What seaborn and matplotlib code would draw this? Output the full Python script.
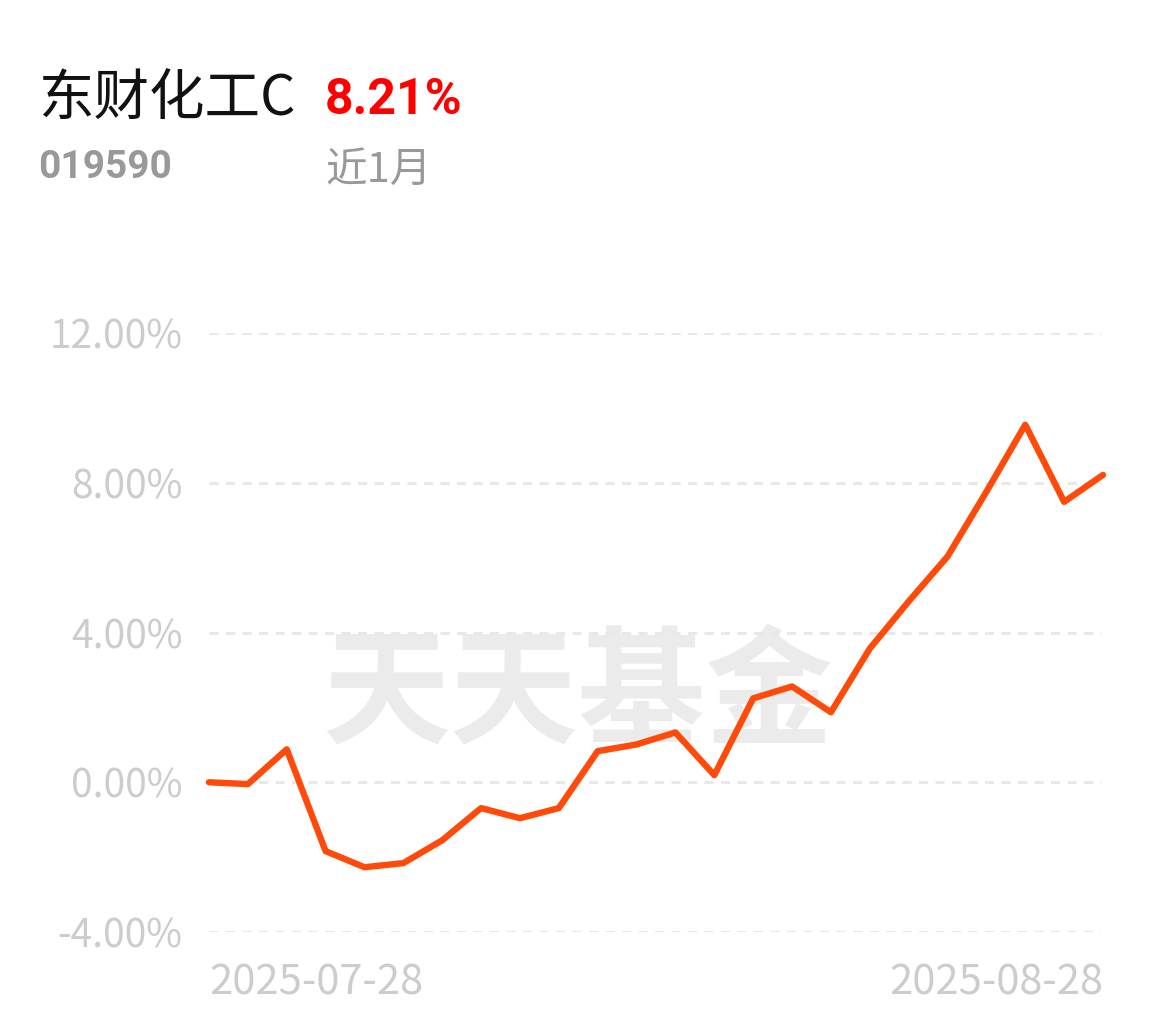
import pandas as pd
import numpy as np
import matplotlib
matplotlib.use('Agg')
import matplotlib.pyplot as plt
import seaborn as sns

# 数据: 近1月累计收益率 (%)
dates = ['2025-07-28', '2025-07-29', '2025-07-30', '2025-07-31', '2025-08-01',
         '2025-08-04', '2025-08-05', '2025-08-06', '2025-08-07', '2025-08-08',
         '2025-08-11', '2025-08-12', '2025-08-13', '2025-08-14', '2025-08-15',
         '2025-08-18', '2025-08-19', '2025-08-20', '2025-08-21', '2025-08-22',
         '2025-08-25', '2025-08-26', '2025-08-27', '2025-08-28']
returns = [0.00, -0.05, 0.88, -1.84, -2.27, -2.16, -1.55, -0.69, -0.96, -0.69,
           0.83, 1.01, 1.33, 0.19, 2.24, 2.56, 1.87, 3.57, 4.83, 6.03,
           7.76, 9.55, 7.49, 8.21]
y_ticks = [-4, 0, 4, 8, 12]
y_labels = ['-4.00%', '0.00%', '4.00%', '8.00%', '12.00%']
x_labels = ['2025-07-28', '2025-08-28']

fund_name = '东财化工C'
fund_code = '019590'
period_return = '8.21%'
period_label = '近1月'
watermark = '天天基金'

sns.set_theme(style='white')
plt.rcParams['font.family'] = ['Noto Sans CJK SC', 'DejaVu Sans']

# 交易日等间距排列
df = pd.DataFrame({'date': dates, 'ret': returns})
df['idx'] = np.arange(len(df))

fig = plt.figure(figsize=(11.55, 10.22), dpi=100)
ax = fig.add_axes([209 / 1155, 90 / 1022, (1103 - 209) / 1155, (932 - 333) / 1022])

# 网格线
for yv in y_ticks:
    ax.axhline(yv, xmax=0.998, color='#e8e8e8', linewidth=2.2,
               linestyle=(0, (3, 2.4)), zorder=1)

# 水印
ax.text(0.413, 0.393, watermark, transform=ax.transAxes, ha='center', va='center',
        fontsize=92, fontweight='bold', color='#ebebeb', zorder=0)

sns.lineplot(data=df, x='idx', y='ret', ax=ax, color='#ff4a0a', linewidth=4.6,
             zorder=3, clip_on=False, solid_capstyle='round', solid_joinstyle='round')

ax.set_xlim(0, len(df) - 1)
ax.set_ylim(-4, 12)
ax.set_yticks(y_ticks)
ax.set_yticklabels(y_labels)
ax.set_xticks([df['idx'].iloc[0], df['idx'].iloc[-1]])
ax.set_xticklabels(x_labels)
xt = ax.get_xticklabels()
xt[0].set_ha('left')
xt[1].set_ha('right')
ax.tick_params(axis='y', length=0, pad=19, labelsize=28, labelcolor='#cccccc')
ax.tick_params(axis='x', length=0, pad=22, labelsize=30, labelcolor='#cccccc')
ax.set_xlabel('')
ax.set_ylabel('')
for s in ax.spines.values():
    s.set_visible(False)
ax.grid(False)

# 标题区
fig.text(38 / 1155, 1 - 100 / 1022, fund_name, ha='left', va='center',
         fontsize=40, color='#111111')
fig.text(325 / 1155, 1 - 100 / 1022, period_return, ha='left', va='center',
         fontsize=36, fontweight='bold', color='#ff0000', family=['Roboto', 'DejaVu Sans'])
fig.text(38 / 1155, 1 - 168 / 1022, fund_code, ha='left', va='center',
         fontsize=28, fontweight='bold', color='#999999', family=['Roboto', 'DejaVu Sans'])
fig.text(325 / 1155, 1 - 170 / 1022, period_label, ha='left', va='center',
         fontsize=30, color='#999999')

fig.savefig('out.png', dpi=100, facecolor='white')
